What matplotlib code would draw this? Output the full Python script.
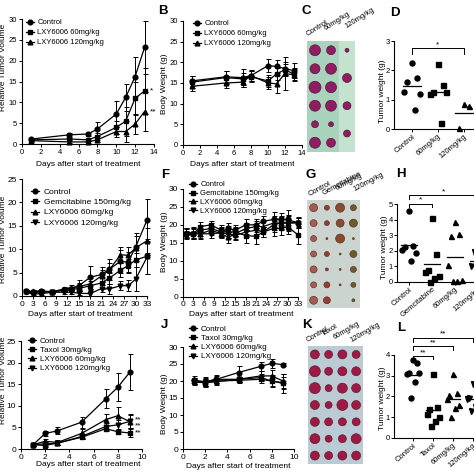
import numpy as np
import matplotlib
matplotlib.use('Agg')
import matplotlib.pyplot as plt

plt.rcParams['font.family'] = ['Liberation Sans Narrow', 'Liberation Sans', 'DejaVu Sans']
plt.rcParams['axes.linewidth'] = 0.8

# ---------------- data ----------------
# Panel A (relative tumor volume)
A_days = [1, 5, 7, 8, 10, 11, 12, 13]
A_labels = ['Control', 'LXY6006 60mg/kg', 'LXY6006 120mg/kg']
A_ctrl = [1.2, 2.2, 2.4, 3.6, 7.2, 11.2, 16.2, 23.2]
A_60 = [1.0, 1.2, 1.0, 1.8, 4.0, 5.5, 11.0, 12.7]
A_120 = [0.8, 0.5, 0.5, 1.0, 3.0, 3.0, 4.8, 7.8]
A_ctrl_err = [0.3, 0.4, 0.5, 1.6, 3.1, 3.3, 4.6, 6.4]
A_60_err = [0.2, 0.3, 0.3, 0.8, 1.6, 3.5, 4.0, 5.5]
A_120_err = [0.2, 0.2, 0.3, 0.5, 1.2, 2.5, 2.3, 4.6]

# Panel B (body weight)
B_ctrl = [15.5, 16.5, 16.3, 16.8, 19.2, 19.0, 18.5, 18.0]
B_60 = [15.2, 16.3, 16.0, 16.5, 15.5, 17.2, 18.2, 17.2]
B_120 = [14.2, 15.0, 15.2, 16.8, 15.0, 14.8, 17.3, 17.0]
B_ctrl_err = [1.3, 1.5, 2.2, 1.3, 1.5, 1.5, 1.5, 1.8]
B_60_err = [1.5, 1.5, 1.5, 1.3, 1.5, 1.5, 1.5, 1.5]
B_120_err = [1.2, 1.2, 1.2, 1.2, 1.5, 2.2, 4.0, 1.5]

# Panel D (tumor weight)
D_cats = ['Control', '60mg/kg', '120mg/kg']
D_ctrl = [2.25, 1.75, 1.6, 1.25, 1.2, 0.65]
D_60 = [2.2, 1.5, 1.25, 1.2, 1.25, 0.2]
D_120 = [0.85, 0.78, 0.02]

# Panel E
E_days = [1, 3, 5, 8, 11, 13, 15, 18, 21, 23, 26, 28, 30, 33]
E_labels = ['Control', 'Gemcitabine 150mg/kg', 'LXY6006 60mg/kg', 'LXY6006 120mg/kg']
E_ctrl = [1.0, 0.9, 1.0, 0.9, 1.3, 1.6, 2.2, 4.0, 4.6, 5.7, 7.4, 7.2, 10.5, 16.2]
E_gem = [1.0, 0.8, 0.8, 0.9, 1.2, 1.4, 1.6, 2.2, 2.8, 3.8, 5.5, 6.5, 7.7, 8.5]
E_60 = [1.0, 1.0, 1.1, 0.9, 1.5, 1.8, 2.0, 2.6, 4.3, 5.5, 8.8, 8.7, 10.3, 11.8]
E_120 = [0.9, 0.4, 0.5, 0.8, 0.8, 0.8, 0.6, 0.5, 1.6, 1.5, 2.2, 2.2, 3.6, 8.3]
E_ctrl_err = [0.2, 0.2, 0.2, 0.2, 0.3, 0.4, 1.2, 2.5, 1.5, 2.3, 2.5, 2.3, 3.0, 4.6]
E_gem_err = [0.2, 0.2, 0.2, 0.2, 0.3, 0.3, 0.6, 1.0, 1.2, 1.2, 1.5, 1.3, 1.5, 3.7]
E_60_err = [0.2, 0.3, 0.3, 0.2, 0.4, 0.5, 0.8, 1.2, 1.3, 1.5, 1.7, 1.8, 2.5, 2.7]
E_120_err = [0.2, 0.2, 0.2, 0.2, 0.3, 0.3, 0.4, 0.5, 0.8, 1.0, 1.0, 1.2, 2.6, 3.5]

# Panel F
F_ctrl = [17.5, 17.5, 18.5, 19.0, 18.0, 19.0, 18.5, 20.0, 20.0, 21.0, 21.5, 21.5, 21.5, 20.5]
F_gem = [17.5, 17.5, 19.5, 20.0, 18.5, 18.0, 18.0, 17.0, 16.8, 18.0, 19.0, 19.0, 19.5, 17.2]
F_60 = [17.8, 17.8, 17.5, 18.5, 17.5, 16.5, 17.5, 19.0, 19.5, 19.5, 20.5, 20.5, 20.5, 20.8]
F_120 = [17.2, 17.5, 17.5, 17.5, 17.8, 17.5, 17.0, 18.0, 18.5, 18.0, 20.0, 20.5, 20.5, 20.5]
F_ctrl_err = [1.5, 1.5, 1.5, 1.5, 1.5, 1.5, 1.5, 1.5, 1.5, 1.5, 2.0, 1.8, 2.5, 1.5]
F_gem_err = [1.2, 1.5, 1.2, 1.2, 1.5, 1.8, 1.5, 2.0, 2.2, 1.5, 2.0, 1.8, 2.0, 2.5]
F_60_err = [1.2, 1.5, 1.5, 1.2, 1.2, 1.5, 1.5, 1.5, 1.5, 1.5, 2.0, 2.0, 2.2, 1.5]
F_120_err = [1.0, 1.2, 1.2, 1.2, 1.2, 1.2, 1.2, 1.5, 1.5, 1.5, 2.0, 1.8, 2.0, 1.5]

# Panel H
H_cats = ['Control', 'Gemcitabine', '60mg/kg', '120mg/kg']
H_ctrl = [4.55, 2.3, 2.25, 2.05, 1.85, 1.35]
H_gem = [4.1, 1.8, 0.75, 0.6, 0.4, 0.25, 0.0]
H_60 = [3.85, 3.05, 2.97, 1.08, 0.12, 0.05, 0.05]
H_120 = [3.0, 2.5, 1.9, 1.0, 0.5, 0.3, 0.25]

# Panel I
I_days = [1, 2, 3, 5, 7, 8, 9]
I_labels = ['Control', 'Taxol 30mg/kg', 'LXY6006 60mg/kg', 'LXY6006 120mg/kg']
I_ctrl = [1.0, 3.6, 4.2, 6.2, 11.6, 14.3, 17.8]
I_tax = [1.0, 0.8, 1.4, 2.7, 4.7, 4.0, 3.7]
I_60 = [1.0, 1.8, 1.5, 3.6, 6.8, 7.7, 6.3]
I_120 = [1.0, 1.2, 1.3, 2.9, 5.2, 5.6, 6.4]
I_ctrl_err = [0.3, 0.6, 0.8, 1.3, 2.2, 3.3, 4.2]
I_tax_err = [0.2, 0.3, 0.4, 0.5, 0.6, 0.5, 1.0]
I_60_err = [0.2, 0.6, 0.5, 1.0, 1.2, 2.0, 1.5]
I_120_err = [0.2, 0.4, 0.4, 0.6, 0.8, 1.0, 1.6]

# Panel J
J_ctrl = [20.2, 19.8, 20.5, 22.5, 24.3, 25.2, 24.8]
J_tax = [20.0, 19.5, 20.0, 20.2, 20.5, 20.0, 19.5]
J_60 = [20.0, 19.7, 20.5, 20.5, 21.5, 21.5, 20.0]
J_120 = [19.7, 19.5, 19.8, 20.5, 21.0, 20.0, 19.3]
J_ctrl_err = [1.2, 1.5, 1.2, 1.8, 1.3, 1.3, 0.5]
J_tax_err = [1.0, 1.0, 1.0, 0.8, 1.0, 1.5, 1.8]
J_60_err = [1.0, 1.2, 1.0, 0.8, 1.3, 1.6, 2.0]
J_120_err = [1.0, 1.0, 1.0, 0.8, 1.0, 1.8, 2.8]

# Panel L
L_cats = ['Control', 'Taxol', '60mg/kg', '120mg/kg']
L_ctrl = [3.75, 3.6, 3.1, 3.05, 3.1, 2.7, 1.9]
L_tax = [3.07, 1.47, 1.4, 1.15, 1.0, 0.83, 0.6]
L_60 = [3.05, 2.15, 2.05, 1.85, 1.6, 1.45, 1.0]
L_120 = [2.6, 2.2, 1.9, 1.85, 1.75, 1.5, 1.3]

# Photo panels: tumour diameters (px) per column, row by row
C_cols = ['Control', '60mg/kg', '120mg/kg']
C_sizes = [[11, 10, 12, 11, 7, 11], [9, 11, 11, 11, 5, 9], [4, 9, 8, 7]]
G_cols = ['Control', 'Gemcitabine', '60mg/kg', '120mg/kg']
G_sizes = [[8, 7, 6, 6, 7, 6, 8], [5, 5, 2, 5, 3, 6, 7], [9, 8, 9, 2, 2, 2, 0], [6, 8, 2, 7, 6, 5, 3]]
K_cols = ['Control', 'Taxol', '60mg/kg', '120mg/kg']
K_sizes = [[9, 11, 11, 9, 9, 10, 9], [8, 8, 7, 7, 8, 7, 8], [9, 9, 10, 11, 8, 8, 9], [8, 9, 9, 9, 8, 10, 9]]

# ---------------- figure ----------------
W = H = 474
fig = plt.figure(figsize=(4.74, 4.74), dpi=100)
fig.patch.set_facecolor('white')

def px_axes(x0, y0, x1, y1):
    return fig.add_axes([x0 / W, 1 - y1 / H, (x1 - x0) / W, (y1 - y0) / H])

def ftext(x, y, s, **kw):
    return fig.text(x / W, 1 - y / H, s, **kw)

def style(ax, fs=5.5, pad=1.2):
    for s in ['top', 'right']:
        ax.spines[s].set_visible(False)
    ax.tick_params(axis='both', direction='out', length=2.2, width=0.7, labelsize=fs, pad=pad)
    ax.set_facecolor('none')

MARKERS = ['o', 's', '^', 'v']

def line_panel(ax, days, series, errs, labels):
    handles = []
    for ys, es, lab, m in zip(series, errs, labels, MARKERS):
        ax.errorbar(days, ys, yerr=es, fmt='none', ecolor='black', elinewidth=0.7,
                    capsize=1.8, capthick=0.7, clip_on=False)
        h, = ax.plot(days, ys, color='black', lw=0.9, marker=m, ms=3.4, label=lab, clip_on=False)
        handles.append(h)
    return handles

def legend(ax, handles, x, y, fs, sp):
    lg = ax.legend(handles=handles, loc='upper left', bbox_to_anchor=(x / W, 1 - y / H),
                   bbox_transform=fig.transFigure, frameon=False, fontsize=fs,
                   handlelength=1.0, handletextpad=0.5, labelspacing=sp, borderpad=0,
                   borderaxespad=0)
    return lg

bold = dict(fontsize=9.5, fontweight='bold', family=['Liberation Sans', 'DejaVu Sans'])

# ---- A ----
axA = px_axes(22, 19, 154, 144)
hA = line_panel(axA, A_days, [A_ctrl, A_60, A_120], [A_ctrl_err, A_60_err, A_120_err], A_labels)
axA.set_xlim(0, 14); axA.set_ylim(0, 30)
axA.set_xticks(range(0, 15, 2)); axA.set_yticks(range(0, 31, 5))
style(axA)
legend(axA, hA, 26, 19, 5.5, 0.35)
axA.text(13.55, A_60[-1], '*', fontsize=6, va='center', ha='left', clip_on=False)
axA.text(13.55, A_120[-1], '**', fontsize=6, va='center', ha='left', clip_on=False)
ftext(4, 67, 'Relative Tumor Volume', rotation=90, fontsize=6, ha='center', va='center')
ftext(88, 164, 'Days after start of treatment', fontsize=6, ha='center', va='center')

# ---- B ----
axB = px_axes(183, 21, 302, 145)
hB = line_panel(axB, A_days, [B_ctrl, B_60, B_120], [B_ctrl_err, B_60_err, B_120_err], A_labels)
axB.set_xlim(0, 14); axB.set_ylim(0, 30)
axB.set_xticks(range(0, 15, 2)); axB.set_yticks(range(0, 31, 5))
style(axB)
legend(axB, hB, 193, 20, 5.5, 0.35)
ftext(164, 84, 'Body Weight (g)', rotation=90, fontsize=6, ha='center', va='center')
ftext(242, 164, 'Days after start of treatment', fontsize=6, ha='center', va='center')
ftext(158, 10.5, 'B', ha='left', va='center', **bold)

# ---- photo helper ----
def photo(box, sizes, bg, tumor, edge, strip=None):
    ax = px_axes(*box)
    ncol = len(sizes)
    nrow = max(len(c) for c in sizes)
    ax.set_xlim(-0.5, ncol - 0.5)
    ax.set_ylim(nrow - 0.5, -0.5)
    ax.set_facecolor(bg)
    if strip is not None:
        ax.axvspan(ncol - 1.5, ncol - 0.5, color=strip, zorder=0)
    for ci, col in enumerate(sizes):
        rows = np.arange(len(col)) * (nrow / len(col)) if len(col) < nrow else np.arange(len(col))
        s = (np.array(col) / 1.389) ** 2
        c = tumor[ci] if isinstance(tumor, list) else tumor
        ax.scatter(np.full(len(col), ci), rows, s=s, c=c, edgecolors=edge, linewidths=0.4, zorder=3)
    ax.set_xticks([]); ax.set_yticks([])
    for s in ax.spines.values():
        s.set_visible(False)
    return ax

# ---- C ----
photo((307, 41, 355, 152), C_sizes, '#a9d3bd', '#8e1d62', '#4a0c30', strip='#c3e3cf')
ftext(302, 10.5, 'C', ha='left', va='center', **bold)
for (x, y), lab in zip([(309, 38), (327, 32), (347, 30)], C_cols):
    ftext(x, y, lab, rotation=32, fontsize=5.5, ha='left', va='bottom', rotation_mode='anchor')

# ---- scatter helper ----
JIT = [0.0, 0.18, -0.18, -0.3, 0.3, 0.1, -0.1]

def dot_panel(ax, groups, cats):
    for i, g in enumerate(groups):
        xs = [i + 1 + JIT[k % len(JIT)] for k in range(len(g))]
        ax.plot(xs, g, ls='none', marker=MARKERS[i], ms=3.6, color='black', clip_on=False)
        m = np.mean(g)
        ax.plot([i + 1 - 0.36, i + 1 + 0.36], [m, m], color='black', lw=0.9, clip_on=False)
    ax.set_xticks(range(1, len(cats) + 1))
    ax.set_xticklabels(cats, rotation=40, ha='right', rotation_mode='anchor')

def bracket(ax, x1, x2, y, drop, txt, fs=6):
    ax.plot([x1, x1, x2, x2], [y - drop, y, y, y - drop], color='black', lw=0.7, clip_on=False)
    ax.text((x1 + x2) / 2, y, txt, ha='center', va='bottom', fontsize=fs, clip_on=False)

# ---- D ----
axD = px_axes(394, 41, 500, 129)
dot_panel(axD, [D_ctrl, D_60, D_120], D_cats)
axD.set_xlim(0.31, 0.31 + 106 / 26); axD.set_ylim(0, 3)
axD.set_yticks([0, 1, 2, 3])
style(axD, 5.5, 0.8)
bracket(axD, 1, 3, 2.75, 0.18, '*')
ftext(382, 91, 'Tumor weight (g)', rotation=90, fontsize=6, ha='center', va='center')
ftext(390, 13.5, 'D', ha='left', va='center', **bold)

# ---- E ----
axE = px_axes(22, 179, 147, 296)
hE = line_panel(axE, E_days, [E_ctrl, E_gem, E_60, E_120],
                [E_ctrl_err, E_gem_err, E_60_err, E_120_err], E_labels)
axE.set_xlim(0, 33); axE.set_ylim(0, 25)
axE.set_xticks(range(0, 34, 3)); axE.set_yticks(range(0, 26, 5))
style(axE, 6)
legend(axE, hE, 31, 188, 6, 0.3)
axE.text(34.2, 8.5, '**', rotation=90, fontsize=6, va='center', ha='center', clip_on=False)
ftext(4, 239, 'Relative Tumor Volume', rotation=90, fontsize=6, ha='center', va='center')
ftext(80, 314, 'Days after start of treatment', fontsize=6, ha='center', va='center')

# ---- F ----
axF = px_axes(183, 189, 298, 296.5)
hF = line_panel(axF, E_days, [F_ctrl, F_gem, F_60, F_120],
                [F_ctrl_err, F_gem_err, F_60_err, F_120_err], E_labels)
axF.set_xlim(0, 33); axF.set_ylim(0, 30)
axF.set_xticks(range(0, 34, 3)); axF.set_yticks(range(0, 31, 5))
style(axF, 6)
legend(axF, hF, 189, 181, 5.5, 0.2)
ftext(165, 242, 'Body Weight (g)', rotation=90, fontsize=6, ha='center', va='center')
ftext(241, 315, 'Days after start of treatment', fontsize=6, ha='center', va='center')
ftext(161, 174.5, 'F', ha='left', va='center', **bold)

# ---- G ----
photo((307, 200, 360, 308), G_sizes, '#cbd4cf', ['#a85a50', '#9a3a30', '#8a4a30', '#6e5a2a'], '#4a2a1a')
ftext(305, 174.5, 'G', ha='left', va='center', **bold)
for (x, y), lab in zip([(311, 198), (325, 197), (338, 192), (355, 193)], G_cols):
    ftext(x, y, lab, rotation=28, fontsize=5.5, ha='left', va='bottom', rotation_mode='anchor')

# ---- H ----
axH = px_axes(397, 204.3, 500, 281.7)
dot_panel(axH, [H_ctrl, H_gem, H_60, H_120], H_cats)
axH.set_xlim(1 - 12 / 23, 1 - 12 / 23 + 103 / 23); axH.set_ylim(0, 5)
axH.set_yticks(range(0, 6))
style(axH, 5.5, 0.8)
bracket(axH, 1, 2, 5.05, 0.2, '*')
bracket(axH, 1, 4, 5.6, 0.25, '*')
ftext(384, 247, 'Tumor weight (g)', rotation=90, fontsize=6, ha='center', va='center')
ftext(396, 174, 'H', ha='left', va='center', **bold)

# ---- I ----
axI = px_axes(21, 341, 142, 449)
hI = line_panel(axI, I_days, [I_ctrl, I_tax, I_60, I_120],
                [I_ctrl_err, I_tax_err, I_60_err, I_120_err], I_labels)
axI.set_xlim(0, 10); axI.set_ylim(0, 25)
axI.set_xticks(range(0, 11, 2)); axI.set_yticks(range(0, 26, 5))
style(axI, 6)
legend(axI, hI, 28, 337, 5.8, 0.2)
for yv in [6.7, 5.4, 3.7]:
    axI.text(9.45, yv, '**', fontsize=6, va='center', ha='left', clip_on=False)
ftext(4, 380, 'Relative Tumor Volume', rotation=90, fontsize=6, ha='center', va='center')
ftext(88, 464, 'Days after start of treatment', fontsize=6, ha='center', va='center')

# ---- J ----
axJ = px_axes(183, 347, 294, 449)
hJ = line_panel(axJ, I_days, [J_ctrl, J_tax, J_60, J_120],
                [J_ctrl_err, J_tax_err, J_60_err, J_120_err], I_labels)
axJ.set_xlim(0, 10); axJ.set_ylim(0, 30)
axJ.set_xticks(range(0, 11, 2)); axJ.set_yticks(range(0, 31, 5))
style(axJ, 6)
legend(axJ, hJ, 189, 325, 5.8, 0.2)
ftext(164, 404, 'Body Weight (g)', rotation=90, fontsize=6, ha='center', va='center')
ftext(238, 466, 'Days after start of treatment', fontsize=6, ha='center', va='center')
ftext(161, 325, 'J', ha='left', va='center', **bold)

# ---- K ----
photo((308, 346, 363, 464), K_sizes, '#bacbd3', '#9c1a44', '#5a0c24')
ftext(302, 325.5, 'K', ha='left', va='center', **bold)
for (x, y), lab in zip([(309, 344), (324, 338), (336, 341), (352, 344)], K_cols):
    ftext(x, y, lab, rotation=30, fontsize=5.5, ha='left', va='bottom', rotation_mode='anchor')

# ---- L ----
axL = px_axes(394, 354.7, 500, 438)
dot_panel(axL, [L_ctrl, L_tax, L_60, L_120], L_cats)
axL.set_xlim(1 - 19 / 20, 1 - 19 / 20 + 106 / 20); axL.set_ylim(0, 4)
axL.set_yticks(range(0, 5))
style(axL, 5.5, 0.8)
bracket(axL, 1, 2, 3.92, 0.15, '**')
bracket(axL, 1, 3, 4.4, 0.18, '**')
bracket(axL, 1, 4, 4.82, 0.2, '**')
ftext(382, 398, 'Tumor weight (g)', rotation=90, fontsize=6, ha='center', va='center')
ftext(397, 328, 'L', ha='left', va='center', **bold)

fig.savefig('out.png', dpi=100)
